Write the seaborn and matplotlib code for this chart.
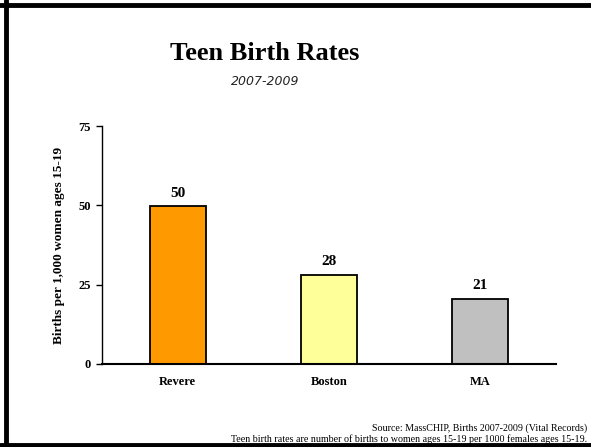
import pandas as pd
from matplotlib import pyplot as plt
from matplotlib.lines import Line2D
import seaborn as sns

# datos
places = ['Revere', 'Boston', 'MA']
rates = [49.8, 28.1, 20.6]
rate_labels = ['50', '28', '21']
bar_colors = ['#FF9900', '#FFFF99', '#C0C0C0']
y_ticks = [0, 25, 50, 75]

df = pd.DataFrame({'Place': places, 'Rate': rates})

sns.set_style('white')
plt.rcParams['font.family'] = ['Liberation Serif', 'DejaVu Serif']
plt.rcParams['text.color'] = 'black'
plt.rcParams['xtick.color'] = 'black'
plt.rcParams['ytick.color'] = 'black'
plt.rcParams['axes.labelcolor'] = 'black'

fig = plt.figure(figsize=(5.91, 4.47), dpi=100)
ax = fig.add_axes([0.1726, 0.1857, 0.7682, 0.5324])

sns.barplot(data=df, x='Place', y='Rate', hue='Place', palette=bar_colors,
            saturation=1, legend=False, width=0.37, edgecolor='black',
            linewidth=1.3, ax=ax)

ax.set_xlim(-0.5, 2.5)
ax.set_ylim(0, 75)
ax.set_yticks(y_ticks)
ax.set_yticklabels([str(t) for t in y_ticks], fontsize=9, fontweight='bold')
ax.tick_params(axis='y', direction='out', length=4, width=1, left=True, pad=4)
ax.tick_params(axis='x', length=0, pad=9)
for lab in ax.get_xticklabels():
    lab.set_fontsize(9)
    lab.set_fontweight('bold')

sns.despine(ax=ax, top=True, right=True)
ax.spines['left'].set_linewidth(1)
ax.spines['bottom'].set_linewidth(1.5)
ax.spines['left'].set_color('black')
ax.spines['bottom'].set_color('black')

ax.set_xlabel('')
ax.set_ylabel('Births per 1,000 women ages 15-19', fontsize=9.5, fontweight='bold', labelpad=10)

# etiquetas de valores
for i, (v, t) in enumerate(zip(rates, rate_labels)):
    ax.text(i, v + 2, t, ha='center', va='bottom', fontsize=11, fontweight='bold')

# titulos
fig.text(0.448, 0.88, 'Teen Birth Rates', ha='center', va='center',
         fontsize=19, fontweight='bold')
fig.text(0.448, 0.818, '2007-2009', ha='center', va='center',
         fontsize=9, style='italic', family='DejaVu Sans', color='#222222')

# notas al pie
fig.text(0.993, 0.043, 'Source: MassCHIP, Births 2007-2009 (Vital Records)',
         ha='right', va='center', fontsize=7.2)
fig.text(0.993, 0.018, 'Teen birth rates are number of births to women ages 15-19 per 1000 females ages 15-19.',
         ha='right', va='center', fontsize=7.2)

# borde
fig.add_artist(Line2D([0.0, 1.0], [0.988, 0.988], color='black', linewidth=3.5, transform=fig.transFigure))
fig.add_artist(Line2D([0.01, 0.01], [0.0, 1.0], color='black', linewidth=3.5, transform=fig.transFigure))
fig.add_artist(Line2D([0.0, 1.0], [0.004, 0.004], color='black', linewidth=3.5, transform=fig.transFigure))

plt.savefig('out.png', dpi=100)
